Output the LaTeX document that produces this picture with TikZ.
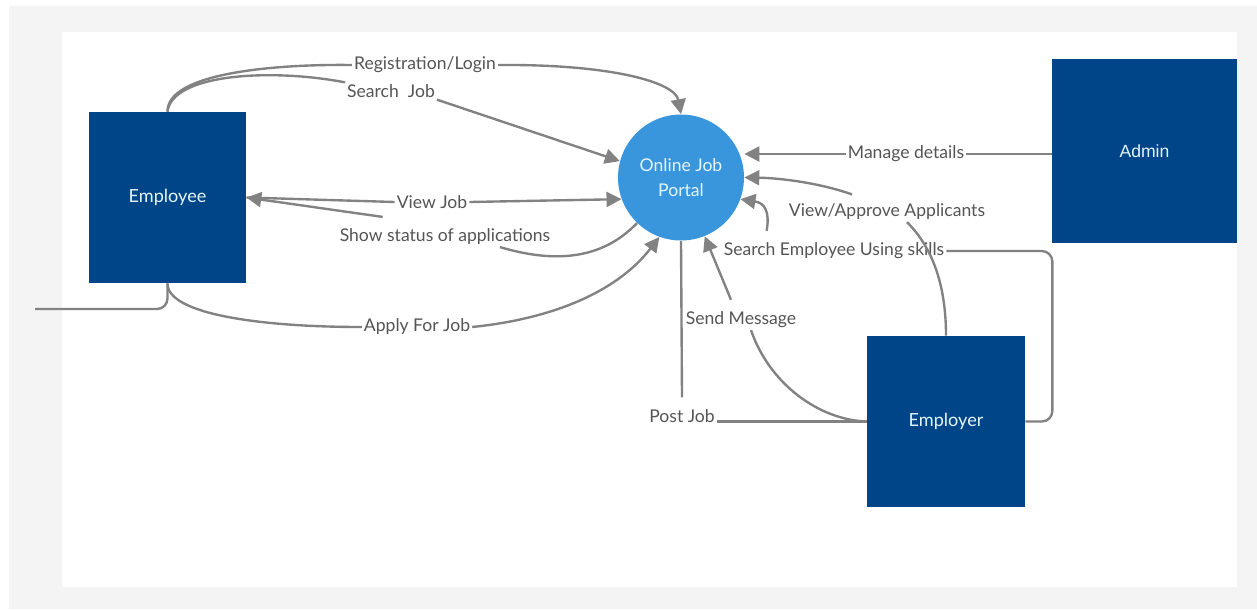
\documentclass[tikz,border=0pt]{standalone}
\usepackage{fontspec}
\setmainfont{Lato}
\newfontfamily\arialfont{Liberation Sans}
\usetikzlibrary{arrows.meta}

\definecolor{boxblue}{RGB}{0,69,135}
\definecolor{portalblue}{RGB}{58,150,220}
\definecolor{linegray}{RGB}{130,130,130}
\definecolor{textgray}{RGB}{85,85,85}
\definecolor{panelgray}{RGB}{244,244,244}
\definecolor{boxtext}{RGB}{228,245,250}

\begin{document}
\begin{tikzpicture}[x=0.02cm,y=-0.02cm,
  main/.style = {fill=boxblue, text=boxtext, minimum width=3.14cm, minimum height=3.42cm, inner sep=0pt, font=\fontsize{10.3}{12}\selectfont},
  hub/.style = {circle, fill=portalblue, text=boxtext, minimum size=2.52cm, inner sep=0pt, align=center, font=\fontsize{10}{14.5}\selectfont},
  lbl/.style = {fill=white, text=textgray, inner sep=1pt, font=\fontsize{10}{12}\selectfont},
  flow/.style = {draw=linegray, line width=1.35pt},
  >={Triangle[length=8.5pt,width=8.5pt]}]
\fill[white] (0,0) rectangle (1257,609);
\fill[panelgray] (9,6) rectangle (1257,609);
\fill[white] (62,32) rectangle (1237,587);
\node[main] (1) at (167.5,197.5) {Employee};
\node[hub] (2) at (681,177.5) {Online Job\\Portal};
\node[main, minimum width=3.7cm, minimum height=3.7cm, font=\arialfont\fontsize{10}{12}\selectfont] (3) at (1144.5,151) {Admin};
\node[main, minimum width=3.16cm] (4) at (946,421.5) {Employer};
\node[lbl] (5) at (425,65) {Registration/Login};
\node[lbl] (6) at (391,91) {Search\ \ Job};
\node[lbl] (7) at (432,202) {View Job};
\node[lbl] (8) at (445,237) {Show status of applications};
\node[lbl] (9) at (417,327) {Apply For Job};
\node[lbl] (10) at (906,154) {Manage details};
\node[lbl] (11) at (887,212) {View/Approve Applicants};
\node[lbl] (12) at (834,251) {Search Employee Using skills};
\node[lbl] (13) at (741,320) {Send Message};
\node[lbl] (14) at (682,416) {Post Job};
\coordinate (15) at (35,309);
\draw[flow] (1.north) .. controls (167,72) and (280,64) .. (5.west);
\draw[flow,->] (5.east) .. controls (610,64) and (675,82) .. (2.north);
\draw[flow] (1.north) .. controls (172,74) and (270,68) .. (6.north west);
\draw[flow,->] (6.south east) -- (2.165);
\draw[flow] (1.east) -- (7.west);
\draw[flow,->] (7.east) -- (2.200);
\draw[flow] (2.226) .. controls (600,262) and (550,262) .. ([xshift=1.1cm]8.south);
\draw[flow,->] ([xshift=0.9cm,yshift=0.2cm]8.north west) -- (1.east);
\draw[flow] (1.south) .. controls (167,314) and (260,327) .. (9.west);
\draw[flow,->] (9.east) .. controls (560,318) and (620,288) .. (2.250);
\draw[flow,rounded corners=6pt] (1.south) |- (15);
\draw[flow] (10.east -| 3.west) -- (10.east);
\draw[flow,->] (10.west) -- (2.east |- 10.west);
\draw[flow] (4.north) .. controls (946,290) and (935,250) .. ([xshift=0.4cm]11.south);
\draw[flow,->] ([xshift=-0.7cm,yshift=0.15cm]11.north) .. controls (820,183) and (780,178) .. (2.east);
\draw[flow,rounded corners=6pt] (4.east) -- ++(27,0) |- (12.east);
\draw[flow,->] ([xshift=0.9cm,yshift=0.2cm]12.north west) .. controls (770,212) and (765,203) .. (2.-20);
\draw[flow] (4.west) .. controls (820,420) and (770,385) .. ([xshift=0.2cm]13.south);
\draw[flow,->] ([xshift=-0.2cm,yshift=0.2cm]13.north) -- (2.-68);
\draw[flow] (4.west) -- (14.east |- 4.west);
\draw[flow] ([yshift=0.2cm]14.north) -- (2.south);
\end{tikzpicture}
\end{document}
